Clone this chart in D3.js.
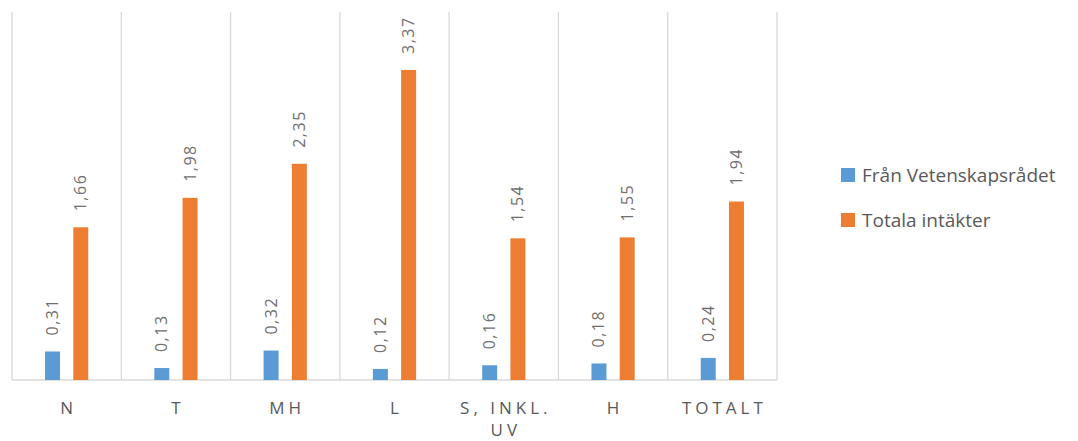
<!DOCTYPE html>
<html>
<head>
<meta charset="utf-8">
<script src="https://cdn.jsdelivr.net/npm/d3@7"></script>
<style>
  html, body { margin: 0; padding: 0; background: #fff; }
  svg { display: block; }
  text { font-family: "Open Sans", Lato, sans-serif; fill: #595959; }
</style>
</head>
<body>
<svg id="chart" width="1078" height="441"></svg>
<script>
// Faculty areas and the two income ratios per area
const categories = ["N", "T", "MH", "L", "S, INKL. UV", "H", "TOTALT"];
const categoryLines = [["N"], ["T"], ["MH"], ["L"], ["S, INKL.", "UV"], ["H"], ["TOTALT"]];
const seriesNames = ["Från Vetenskapsrådet", "Totala intäkter"];
const fromVR = [0.31, 0.13, 0.32, 0.12, 0.16, 0.18, 0.24];
const totalIncome = [1.66, 1.98, 2.35, 3.37, 1.54, 1.55, 1.94];
const colors = ["#5B9BD5", "#ED7D31"];

const rows = categories.map((c, i) => ({ cat: c, lines: categoryLines[i], values: [fromVR[i], totalIncome[i]] }));

const svg = d3.select("#chart");
const plot = { left: 12, right: 777, top: 12, bottom: 380 };

const x0 = d3.scaleBand().domain(categories).range([plot.left, plot.right]).padding(0);
const x1 = d3.scaleBand().domain([0, 1]).range([0, x0.bandwidth()])
  .paddingInner(0.47).paddingOuter(1.17);
const y = d3.scaleLinear().domain([0, 4]).range([plot.bottom, plot.top]);

// vertical separators between categories
const bounds = categories.map(c => x0(c)).concat([plot.right]);
svg.append("g").selectAll("line").data(bounds).join("line")
  .attr("x1", d => d).attr("x2", d => d)
  .attr("y1", plot.top).attr("y2", plot.bottom)
  .attr("stroke", "#D9D9D9").attr("stroke-width", 1.3);

// baseline
svg.append("line")
  .attr("x1", plot.left).attr("x2", plot.right)
  .attr("y1", plot.bottom).attr("y2", plot.bottom)
  .attr("stroke", "#D9D9D9").attr("stroke-width", 1.5);

// bars
const groups = svg.append("g").selectAll("g").data(rows).join("g")
  .attr("transform", d => `translate(${x0(d.cat)},0)`);

groups.selectAll("rect").data(d => d.values.map((v, k) => ({ v, k }))).join("rect")
  .attr("x", d => x1(d.k))
  .attr("width", x1.bandwidth())
  .attr("y", d => y(d.v))
  .attr("height", d => y(0) - y(d.v))
  .attr("fill", d => colors[d.k]);

// rotated value labels above bars
const fmt = v => d3.format(".2f")(v).replace(".", ",");
groups.selectAll("text.val").data(d => d.values.map((v, k) => ({ v, k }))).join("text")
  .attr("class", "val")
  .attr("transform", d => `translate(${x1(d.k) + x1.bandwidth() / 2 + 5.5},${y(d.v) - 16}) rotate(-90)`)
  .attr("text-anchor", "start")
  .style("font-size", "16px")
  .style("letter-spacing", "1.5px")
  .style("fill", "#6f6f6f")
  .text(d => fmt(d.v));

// category labels
const catText = svg.append("g").selectAll("text").data(rows).join("text")
  .attr("y", 414)
  .attr("text-anchor", "middle")
  .style("font-size", "17px")
  .style("letter-spacing", "4px");
catText.selectAll("tspan").data(d => d.lines.map(l => ({ l, x: x0(d.cat) + x0.bandwidth() / 2 }))).join("tspan")
  .attr("x", d => d.x + 2)
  .attr("dy", (d, i) => i === 0 ? 0 : 22)
  .text(d => d.l);

// legend
const legend = svg.append("g").selectAll("g").data(seriesNames).join("g")
  .attr("transform", (d, i) => `translate(841,${168 + i * 45})`);
legend.append("rect").attr("width", 14).attr("height", 14).attr("fill", (d, i) => colors[i]);
legend.append("text").attr("x", 21).attr("y", 14).style("font-size", "19px").text(d => d);
</script>
</body>
</html>
